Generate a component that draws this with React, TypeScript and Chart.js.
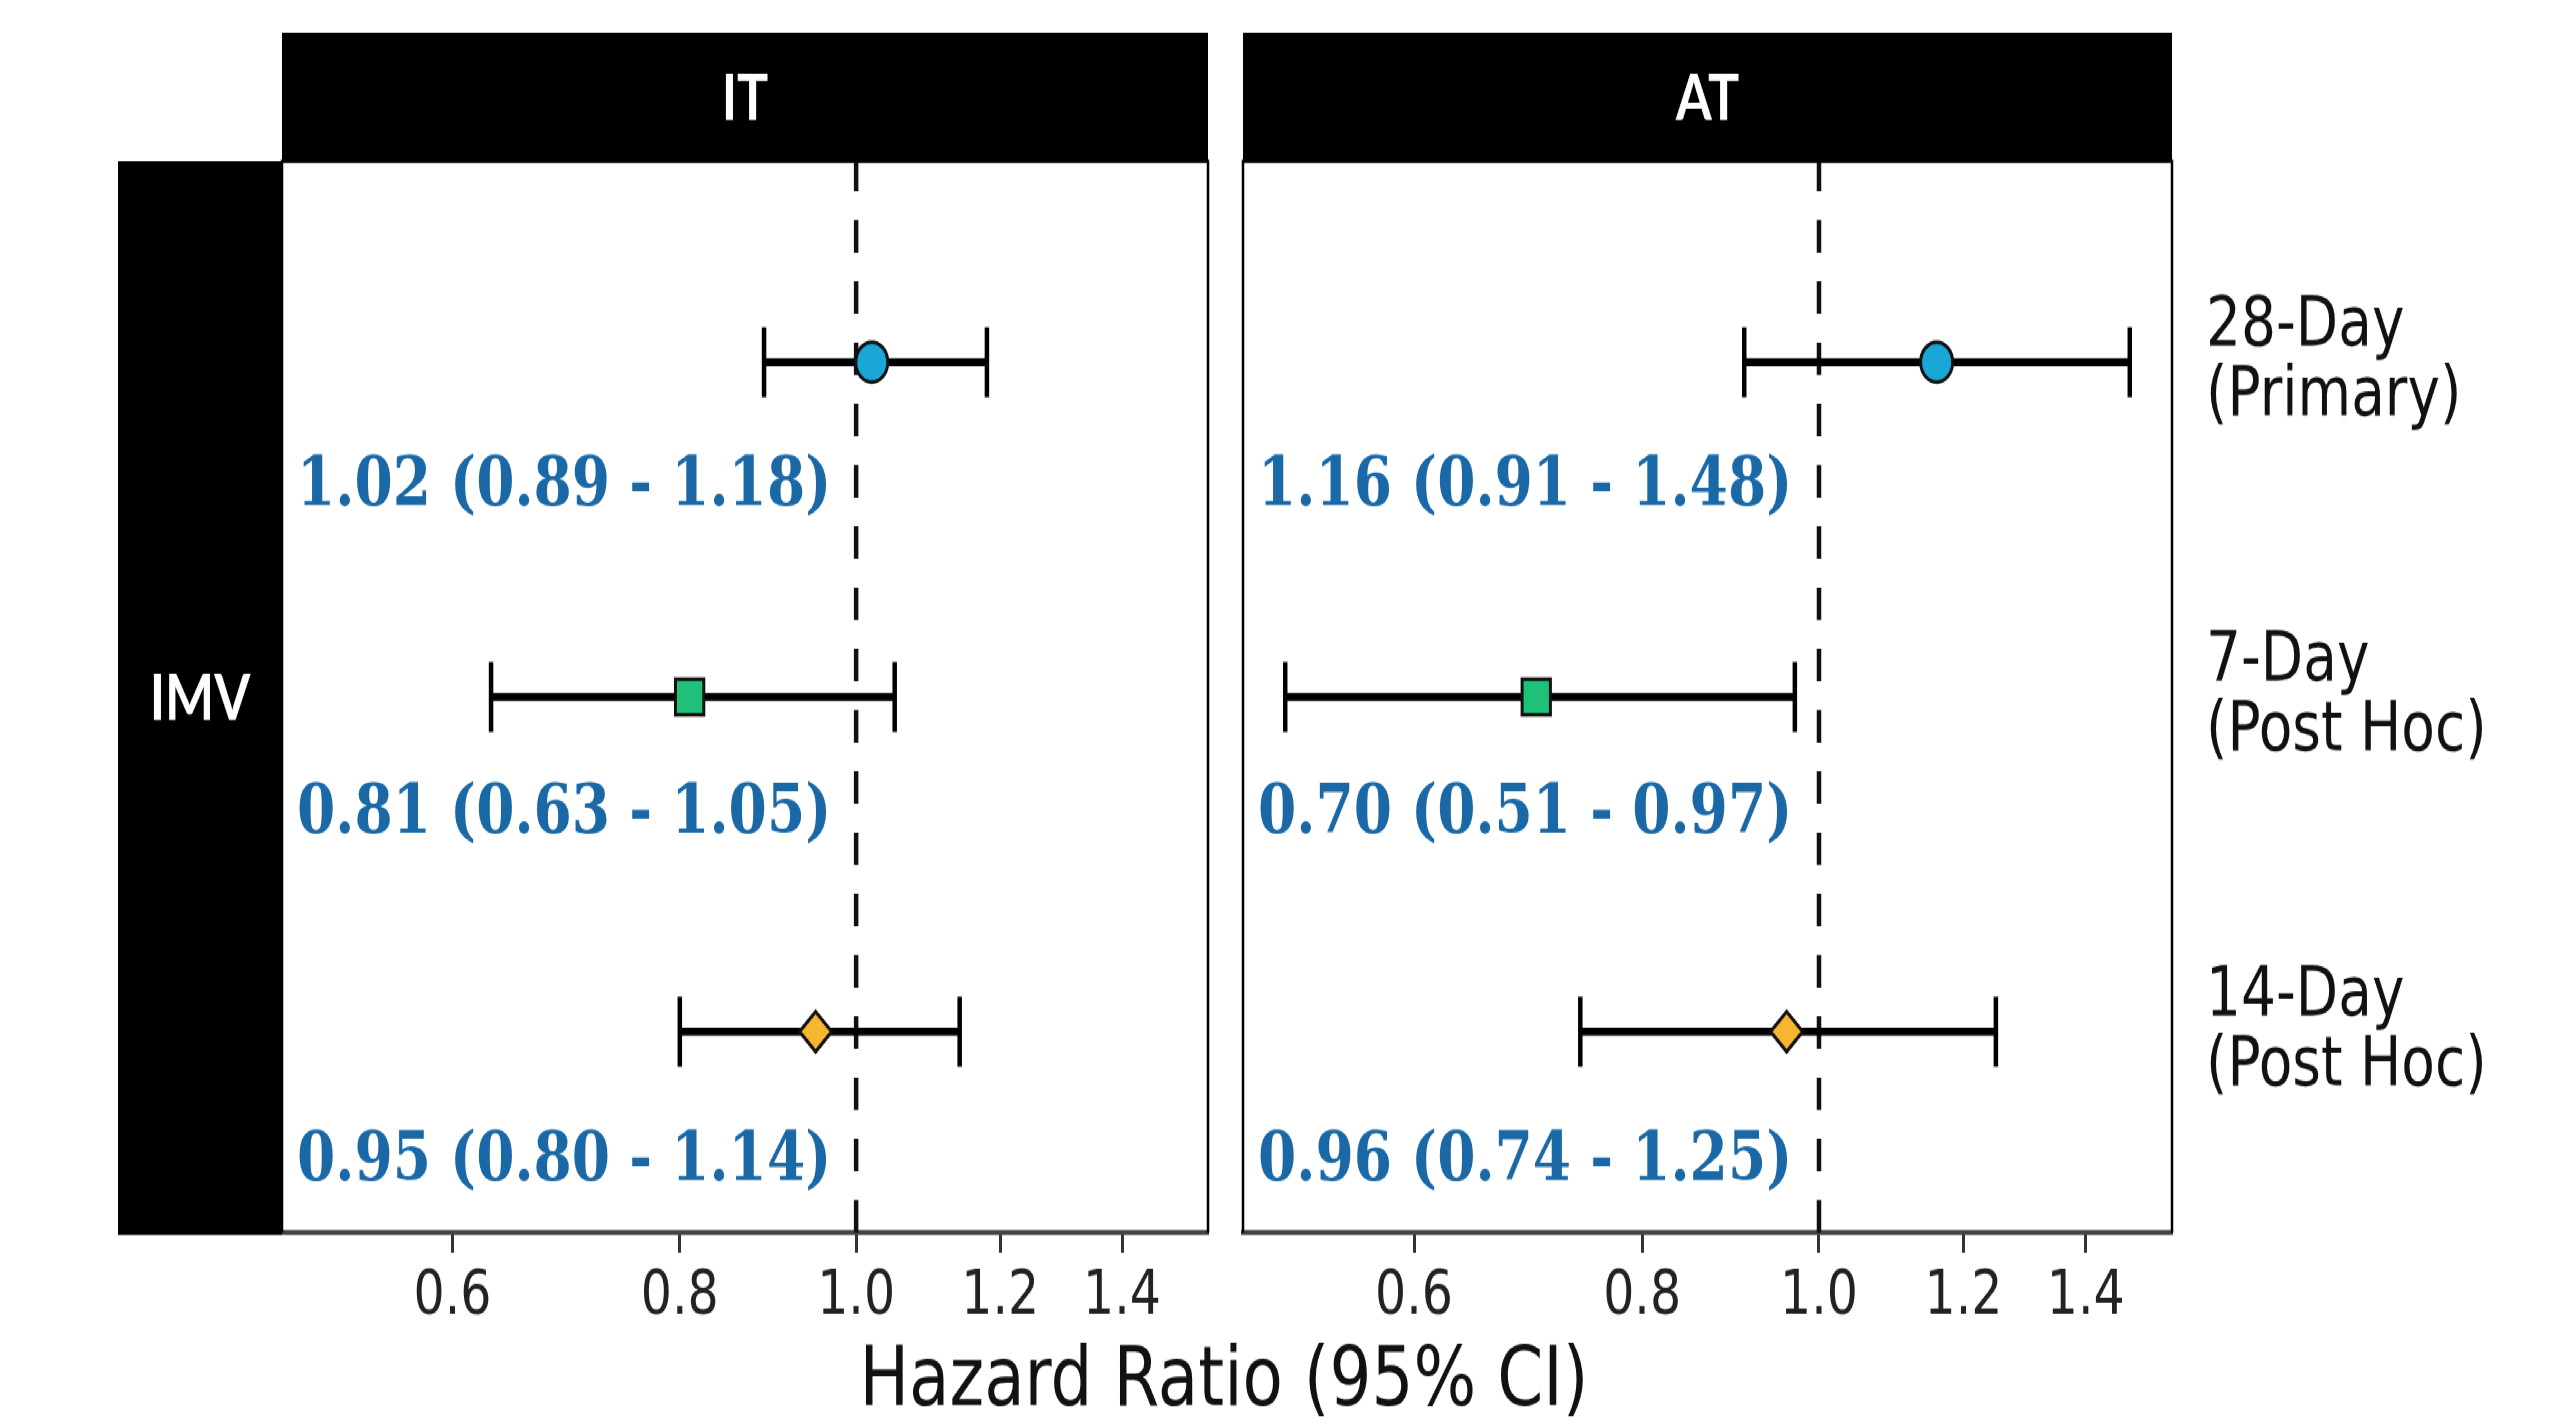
import React, { useEffect, useRef } from 'react';
import { Chart, registerables } from 'chart.js';

Chart.register(...registerables);

// ---------------- data ----------------
const PANELS = ['IT', 'AT'];
const ROW_STRIP = 'IMV';
const OUTCOMES = [
  ['28-Day', '(Primary)'],
  ['7-Day', '(Post Hoc)'],
  ['14-Day', '(Post Hoc)'],
];
const IT_HR = [1.02, 0.81, 0.95];
const IT_LOW = [0.89, 0.63, 0.8];
const IT_HIGH = [1.18, 1.05, 1.14];
const AT_HR = [1.16, 0.7, 0.96];
const AT_LOW = [0.91, 0.51, 0.74];
const AT_HIGH = [1.48, 0.97, 1.25];
const X_TICKS = [0.6, 0.8, 1.0, 1.2, 1.4];
const REF_LINE = 1.0;
const X_TITLE = 'Hazard Ratio (95% CI)';
const MARKER_STYLES = ['circle', 'rect', 'rectRot'];
const MARKER_RADII = [16, 20, 16];
const MARKER_COLORS = ['#1ba6d8', '#1ec177', '#f7b632'];

const HR = [IT_HR, AT_HR];
const LOW = [IT_LOW, AT_LOW];
const HIGH = [IT_HIGH, AT_HIGH];

// x limits: data range in log space expanded by 5%
const allLow = Math.min(...IT_LOW, ...AT_LOW);
const allHigh = Math.max(...IT_HIGH, ...AT_HIGH);
const span = Math.log(allHigh) - Math.log(allLow);
const X_MIN = Math.exp(Math.log(allLow) - 0.05 * span);
const X_MAX = Math.exp(Math.log(allHigh) + 0.05 * span);

// ---------------- layout ----------------
const W = 2572;
const STRETCH = 1.25;
const H = 1139;
const STRIP_TOP = 26;
const PANEL_TOP = 129;
const PANEL_BOTTOM = 986;
const PANEL_LEFTS = [282, 1243];
const PANEL_RIGHTS = [1208, 2172];
const ROW_STRIP_W = 164;
const LABEL_OFFSETS = [0.375, 0.35, 0.39];
const SANS_BOLD = 'Lato';
const SANS = '"DejaVu Sans"';
const SERIF = '"DejaVu Serif"';
const LABEL_BLUE = '#1a68a6';

function fmt(v: number) {
  return v.toFixed(2);
}

function decorPlugin(p: number) {
  return {
    id: 'decor' + p,
    beforeDatasetsDraw(chart: any) {
      const { ctx, chartArea: a, scales } = chart;
      ctx.save();
      // column strip
      ctx.fillStyle = '#000';
      ctx.fillRect(a.left, STRIP_TOP, a.right - a.left, a.top - STRIP_TOP);
      ctx.fillStyle = '#fff';
      ctx.font = `bold 52px ${SANS_BOLD}`;
      ctx.textAlign = 'center';
      ctx.textBaseline = 'middle';
      ctx.fillText(PANELS[p], (a.left + a.right) / 2, (STRIP_TOP + a.top) / 2 + 2);
      if (p === 0) {
        ctx.fillStyle = '#000';
        ctx.fillRect(a.left - ROW_STRIP_W, a.top, ROW_STRIP_W, a.bottom - a.top + 2);
        ctx.fillStyle = '#fff';
        ctx.fillText(ROW_STRIP, a.left - ROW_STRIP_W / 2, (a.top + a.bottom) / 2 + 2);
      }
      // reference line
      const xr = scales.x.getPixelForValue(REF_LINE);
      ctx.setLineDash([26, 23]);
      ctx.lineWidth = 4.5;
      ctx.strokeStyle = '#111';
      ctx.beginPath();
      ctx.moveTo(xr, a.bottom);
      ctx.lineTo(xr, a.top);
      ctx.stroke();
      ctx.restore();
    },
    afterDatasetsDraw(chart: any) {
      const { ctx, chartArea: a, scales } = chart;
      ctx.save();
      // estimate labels
      ctx.fillStyle = LABEL_BLUE;
      ctx.font = `bold 55px ${SERIF}`;
      ctx.textAlign = 'left';
      ctx.textBaseline = 'middle';
      HR[p].forEach((v, i) => {
        const y = scales.y.getPixelForValue(i + 1 + LABEL_OFFSETS[i]);
        ctx.fillText(`${fmt(v)} (${fmt(LOW[p][i])} - ${fmt(HIGH[p][i])})`, a.left + 15, y);
      });
      // panel border (top, left, right)
      ctx.strokeStyle = '#000';
      ctx.lineWidth = 2.5;
      ctx.beginPath();
      ctx.moveTo(a.left, a.bottom);
      ctx.lineTo(a.left, a.top);
      ctx.lineTo(a.right, a.top);
      ctx.lineTo(a.right, a.bottom);
      ctx.stroke();
      // shared axis title
      if (p === 0) {
        ctx.fillStyle = '#111';
        ctx.font = `66px ${SANS}`;
        ctx.textAlign = 'center';
        ctx.textBaseline = 'middle';
        ctx.fillText(X_TITLE, (PANEL_LEFTS[0] + PANEL_RIGHTS[PANELS.length - 1]) / 2 - 3, chart.height - 32);
      }
      ctx.restore();
    },
  };
}

function buildConfig(p: number): any {
  const isLast = p === PANELS.length - 1;
  const datasets: any[] = [];
  HR[p].forEach((v, i) => {
    datasets.push({
      type: 'line',
      data: [
        { x: LOW[p][i], y: i + 1 },
        { x: HIGH[p][i], y: i + 1 },
      ],
      borderColor: '#000',
      borderWidth: 6.5,
      pointStyle: 'line',
      pointRotation: 90,
      pointRadius: 28,
      pointBorderWidth: 4.5,
      pointBorderColor: '#000',
      pointBackgroundColor: '#000',
      order: 2,
    });
  });
  HR[p].forEach((v, i) => {
    datasets.push({
      type: 'scatter',
      data: [{ x: v, y: i + 1 }],
      pointStyle: MARKER_STYLES[i],
      pointRadius: MARKER_RADII[i],
      pointBackgroundColor: MARKER_COLORS[i],
      pointBorderColor: '#111',
      pointBorderWidth: 3,
      order: 1,
    });
  });

  return {
    type: 'scatter',
    data: { datasets },
    plugins: [decorPlugin(p)],
    options: {
      animation: false,
      responsive: true,
      maintainAspectRatio: false,
      events: [],
      layout: {
        padding: {
          left: PANEL_LEFTS[p],
          right: isLast ? 0 : W - PANEL_RIGHTS[p],
          top: PANEL_TOP,
          bottom: 0,
        },
      },
      plugins: { legend: { display: false }, tooltip: { enabled: false } },
      scales: {
        x: {
          type: 'logarithmic',
          min: X_MIN,
          max: X_MAX,
          afterBuildTicks: (s: any) => {
            s.ticks = X_TICKS.map((v) => ({ value: v }));
          },
          afterFit: (s: any) => {
            s.height = H - PANEL_BOTTOM;
          },
          ticks: {
            callback: (v: any) => Number(v).toFixed(1),
            font: { family: SANS, size: 49 },
            color: '#222',
            padding: 7,
            autoSkip: false,
            maxRotation: 0,
          },
          grid: {
            drawOnChartArea: false,
            drawTicks: true,
            tickLength: 16,
            tickWidth: 3,
            tickColor: '#333',
          },
          border: { display: true, color: '#444', width: 4 },
        },
        y: {
          type: 'linear',
          min: 0.4,
          max: 3.6,
          reverse: true,
          position: 'right',
          display: isLast,
          afterBuildTicks: (s: any) => {
            s.ticks = OUTCOMES.map((_, i) => ({ value: i + 1 }));
          },
          afterFit: (s: any) => {
            s.width = isLast ? W - PANEL_RIGHTS[p] : 0;
          },
          ticks: {
            callback: (v: any) => OUTCOMES[Math.round(Number(v)) - 1],
            font: { family: SANS, size: 55, lineHeight: 1.02 },
            color: '#111',
            padding: 34,
            autoSkip: false,
          },
          grid: { display: false, drawTicks: false },
          border: { display: false },
        },
      },
    },
  };
}

export default function App() {
  const itRef = useRef<HTMLCanvasElement>(null);
  const atRef = useRef<HTMLCanvasElement>(null);

  useEffect(() => {
    const c1 = new Chart(itRef.current as HTMLCanvasElement, buildConfig(0));
    const c2 = new Chart(atRef.current as HTMLCanvasElement, buildConfig(1));
    return () => {
      c1.destroy();
      c2.destroy();
    };
  }, []);

  return (
    <div
      style={{
        position: 'fixed',
        left: 0,
        top: 0,
        width: W,
        height: H,
        transform: `scaleY(${STRETCH})`,
        transformOrigin: '0 0',
        background: '#fff',
      }}
    >
      <div style={{ position: 'absolute', left: 0, top: 0, width: W, height: H }}>
        <canvas ref={itRef} />
      </div>
      <div style={{ position: 'absolute', left: 0, top: 0, width: W, height: H }}>
        <canvas ref={atRef} />
      </div>
    </div>
  );
}
